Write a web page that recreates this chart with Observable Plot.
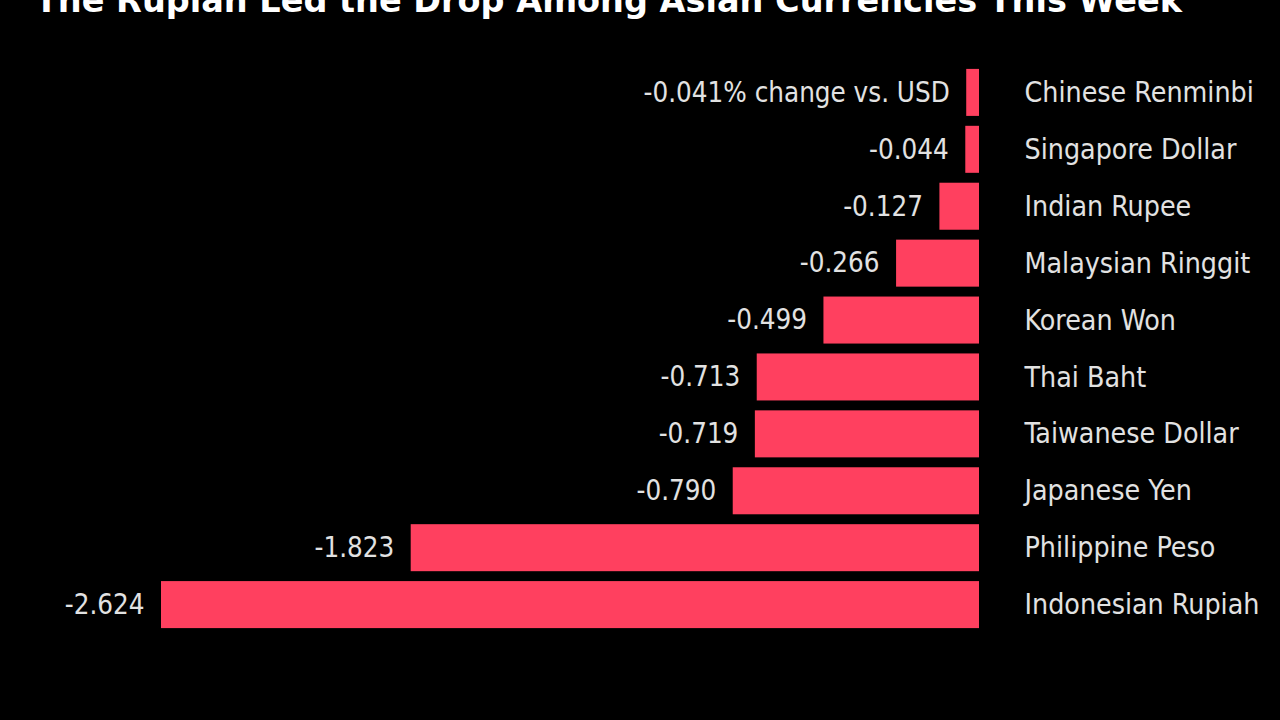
<!DOCTYPE html>
<html>
<head>
<meta charset="utf-8">
<script src="https://cdn.jsdelivr.net/npm/d3@7"></script>
<script src="https://cdn.jsdelivr.net/npm/@observablehq/plot@0.6"></script>
<style>
  html, body { margin: 0; padding: 0; background: #000; width: 1280px; height: 720px; overflow: hidden; }
  #wrap { position: relative; width: 1280px; height: 720px; }
  #title { position: absolute; left: 35px; top: -19px; line-height: 40px; color: #fff; font-family: "DejaVu Sans", sans-serif; font-weight: bold; font-size: 33.5px; white-space: nowrap; z-index: 2; }
  #chart { position: absolute; left: 0; top: 0; }
</style>
</head>
<body>
<div id="wrap">
  <div id="title">The Rupiah Led the Drop Among Asian Currencies This Week</div>
  <div id="chart"></div>
</div>
<script>
const currencies = ["Chinese Renminbi", "Singapore Dollar", "Indian Rupee", "Malaysian Ringgit", "Korean Won", "Thai Baht", "Taiwanese Dollar", "Japanese Yen", "Philippine Peso", "Indonesian Rupiah"];
const changes = [-0.041, -0.044, -0.127, -0.266, -0.499, -0.713, -0.719, -0.790, -1.823, -2.624];
const unitNote = "% change vs. USD";

const fmt = v => d3.format(".3f")(v).replace("\u2212", "-");
const data = currencies.map((c, i) => ({
  currency: c,
  value: changes[i],
  label: fmt(changes[i]) + (i === 0 ? unitNote : "")
}));

const font = "'DejaVu Sans Condensed', 'DejaVu Sans', sans-serif";
const chart = Plot.plot({
  width: 1280,
  height: 720,
  marginLeft: 161,
  marginRight: 301,
  marginTop: 59,
  marginBottom: 82,
  style: { background: "#000", fontFamily: font },
  x: { domain: [-2.624, 0], axis: null },
  y: { domain: currencies, axis: null, padding: 0.174, round: false },
  marks: [
    Plot.barX(data, { x: "value", y: "currency", fill: "#ff405f" }),
    Plot.text(data, { x: "value", y: "currency", text: "label", textAnchor: "end", dx: -17, fill: "#e2e2e2", fontSize: 27.5, fontFamily: font }),
    Plot.text(data, { x: 0, y: "currency", text: "currency", textAnchor: "start", dx: 45, fill: "#e2e2e2", fontSize: 28.3, fontFamily: font })
  ]
});
document.getElementById("chart").appendChild(chart);
</script>
</body>
</html>
